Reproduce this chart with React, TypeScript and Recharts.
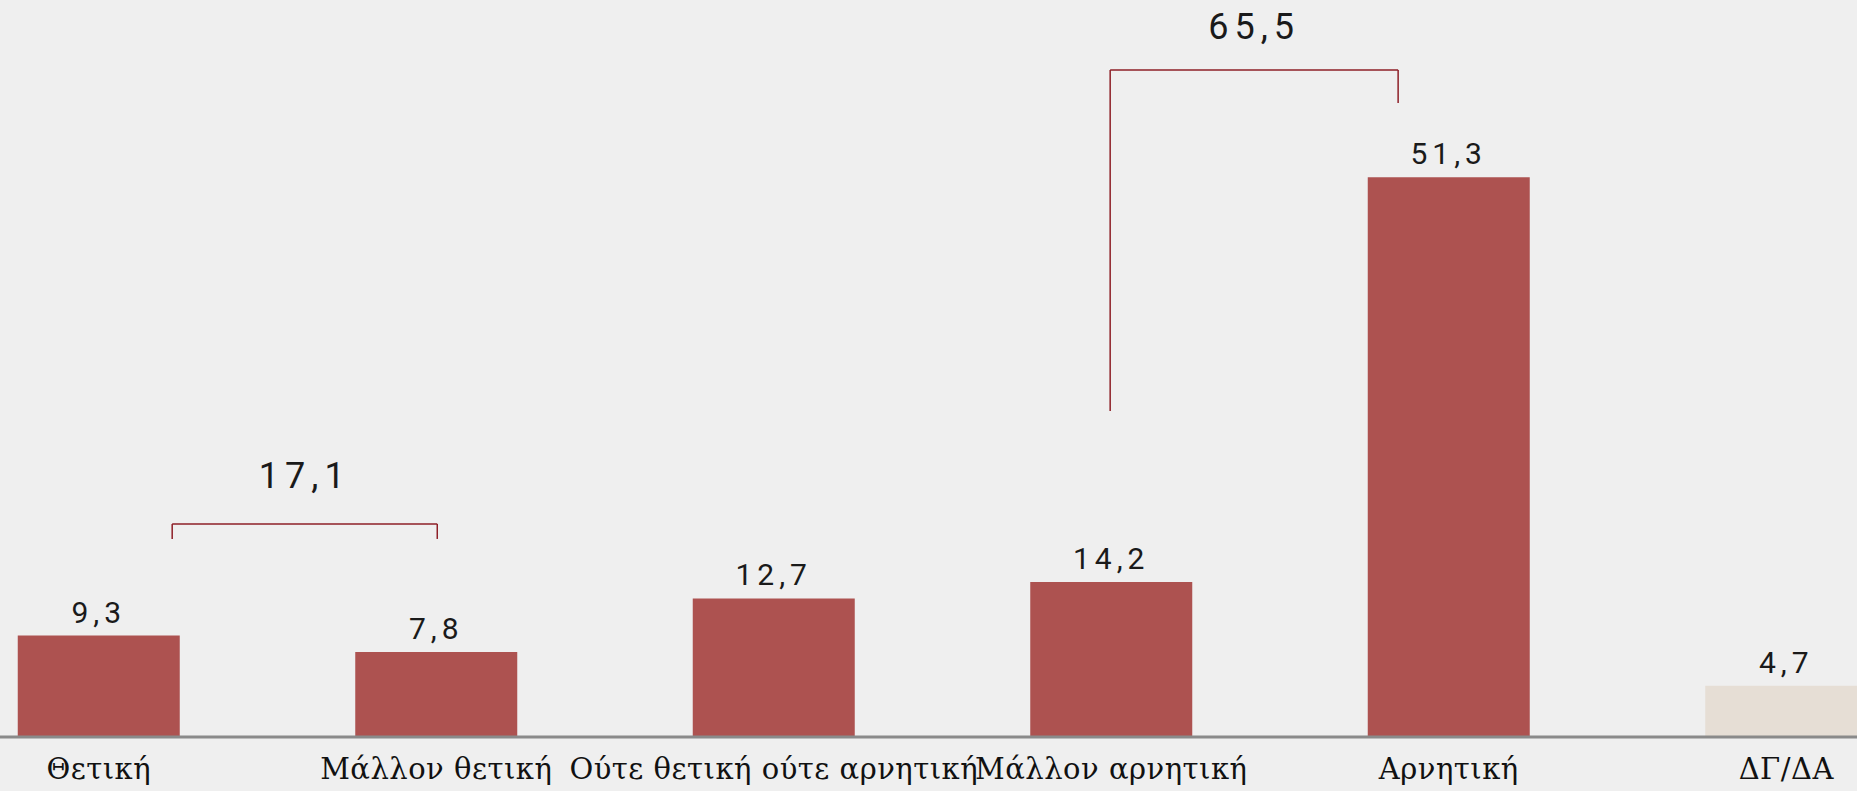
import {
  Bar, BarChart, Cell, LabelList, ReferenceLine, XAxis, YAxis,
} from "recharts";

const categories = [
  "Θετική",
  "Μάλλον θετική",
  "Ούτε θετική ούτε αρνητική",
  "Μάλλον αρνητική",
  "Αρνητική",
  "ΔΓ/ΔΑ",
];
const values = [9.3, 7.8, 12.7, 14.2, 51.3, 4.7];

// group totals shown above the brackets
const positiveGroup = [0, 1];
const negativeGroup = [3, 4];

const RED = "#ad5250";
const BEIGE = "#e6ded5";
const BRACKET = "#8e1f27";
const BG = "#efefef";

const fmt = (v: number) => v.toFixed(1).replace(".", ",");
const sum = (idx: number[]) => idx.reduce((s, i) => s + values[i], 0);

const data = categories.map((name, i) => ({ name, v: values[i] }));

const valueStyle = {
  fontFamily: "Roboto, sans-serif",
  fontSize: 30,
  fill: "#1a1a1a",
  letterSpacing: 5,
};

// bracket = two verticals + a top bar, drawn on the hidden linear x axis "n"
function Bracket({ x1, x2, yTop, yLeft, yRight, label, offset }: {
  x1: number; x2: number; yTop: number; yLeft: number; yRight: number; label: string; offset: number;
}) {
  const common = { xAxisId: "n", stroke: BRACKET, strokeWidth: 1.5, ifOverflow: "visible" as const };
  return [
    <ReferenceLine key={label + "l"} {...common} segment={[{ x: x1, y: yLeft }, { x: x1, y: yTop }]} />,
    <ReferenceLine key={label + "r"} {...common} segment={[{ x: x2, y: yRight }, { x: x2, y: yTop }]} />,
    <ReferenceLine key={label + "t"} {...common} segment={[{ x: x1, y: yTop }, { x: x2, y: yTop }]}
      label={{
        value: label, position: "top", offset,
        style: { ...valueStyle, fontSize: 36, letterSpacing: 6 },
      }} />,
  ];
}

export default function App() {
  return (
    <div style={{
      position: "fixed", left: 0, top: 0, width: 1857, height: 791,
      overflow: "hidden", background: BG,
    }}>
      <div style={{ position: "absolute", left: -70, top: 0 }}>
        <BarChart width={2025} height={791} data={data}
          margin={{ top: 19, right: 0, bottom: 0, left: 0 }} barCategoryGap="26%">
          <XAxis dataKey="name" interval={0} tickLine={false} tickSize={0} tickMargin={21} height={54}
            axisLine={{ stroke: "#8a8a8a", strokeWidth: 3 }}
            tick={{ fontSize: 29, fontFamily: "'DejaVu Serif', serif", fill: "#111", letterSpacing: 0.5 }} />
          <XAxis xAxisId="n" type="number" domain={[0, 5]} allowDataOverflow hide />
          <YAxis hide domain={[0, 65.8]} allowDataOverflow />
          <Bar dataKey="v" isAnimationActive={false}>
            {data.map((d, i) => (
              <Cell key={i} fill={d.name === "ΔΓ/ΔΑ" ? BEIGE : RED} />
            ))}
            <LabelList dataKey="v" position="top" offset={13} formatter={(v: number) => fmt(v)}
              style={valueStyle} />
          </Bar>
          {Bracket({ x1: 0.598, x2: 1.2525, yTop: 19.52, yLeft: 18.15, yRight: 18.15,
            label: fmt(sum(positiveGroup)), offset: 36 })}
          {Bracket({ x1: 2.914, x2: 3.625, yTop: 61.13, yLeft: 29.88, yRight: 58.11,
            label: fmt(sum(negativeGroup)), offset: 31 })}
        </BarChart>
      </div>
    </div>
  );
}
